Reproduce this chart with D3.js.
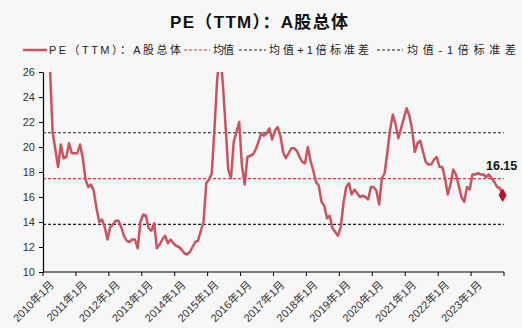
<!DOCTYPE html>
<html><head><meta charset="utf-8">
<script src="https://cdn.jsdelivr.net/npm/d3@7"></script>
<style>
html,body{margin:0;padding:0;background:#f7f7f7;}
text{font-family:"Liberation Sans",Arial,"Noto Sans CJK SC",sans-serif;}
</style></head>
<body><svg id="c" width="522" height="328"></svg>
<script>
// Monthly PE (TTM) of all A shares, 2010-01 .. 2023-12
const startYear = 2010;
const peValues = [
33,29.5,26.5,21.2,19.8,18.4,20.2,19.1,19.2,20.3,19.5,19.5,
19.5,20.2,19.1,17.4,16.8,17.0,16.5,15.1,14.0,14.2,13.6,12.6,
13.6,13.8,14.1,14.1,13.6,12.9,12.5,12.4,12.6,12.6,11.9,14.0,
14.6,14.5,13.5,13.3,13.9,11.9,12.2,12.6,12.9,12.3,12.6,12.3,
12.1,12.0,11.8,11.5,11.4,11.6,12.0,12.4,12.5,13.3,14.0,17.1,
17.4,17.9,21.5,25.5,27.5,25.2,21.8,18.2,17.5,20.4,21.2,22.0,
18.5,17.0,19.2,19.3,19.4,19.8,20.4,21.1,20.9,21.1,21.5,20.6,
21.3,21.6,20.9,19.6,19.1,19.5,19.9,19.9,19.7,19.2,18.8,18.7,
20.0,18.9,18.1,17.2,16.9,15.6,15.3,14.3,14.5,13.5,13.2,12.9,
13.6,15.5,16.8,17.1,16.2,16.6,16.3,16.0,16.1,16.0,15.8,16.8,
16.8,16.5,15.4,17.5,17.9,19.6,21.4,22.6,21.8,20.7,21.5,22.3,
23.1,22.5,21.4,19.6,20.3,20.5,19.6,18.8,18.6,18.6,19.0,19.2,
18.4,18.4,17.5,16.2,17.0,18.2,17.8,16.9,16.0,15.6,16.8,16.6,
17.8,17.8,17.9,17.8,17.8,17.6,17.8,17.5,17.2,16.8,16.7,16.15
];
const meanValue = 17.47;
const upperValue = 21.14;
const lowerValue = 13.81;
const yTicks = [10,12,14,16,18,20,22,24,26];
const months = peValues.map((v,i)=>{const y=startYear+Math.floor(i/12), m=i%12+1; return y+"年"+m+"月";});
const xLabels = months.filter((d,i)=>i%12===0);
const titleText = "PE（TTM）：A股总体";
const legendLabels = ["PE（TTM）：A股总体","均值","均值+1倍标准差","均值-1倍标准差"];
const lastLabel = "16.15";

const svg = d3.select("#c");
svg.append("rect").attr("width",522).attr("height",328).attr("fill","#f7f7f7");

const L=43, R=504, T=72, B=272;
const x = d3.scaleBand().domain(months).range([L,R]).paddingInner(0).paddingOuter(0);
const cx = d => x(d)+x.bandwidth()/2;
const y = d3.scaleLinear().domain([10,26]).range([B,T]);

const lineColor = "#c9545f";

// title
svg.append("text").attr("x",259).attr("y",28).attr("text-anchor","middle")
  .attr("font-size",17).attr("font-weight","bold").attr("fill","#111")
  .attr("textLength",178).attr("lengthAdjust","spacing").text(titleText);

// legend
const lg = svg.append("g");
const lgY = 50;
const items = [
  {x1:23,x2:47,tx:49,tw:132,stroke:lineColor,dash:null,w:2.5},
  {x1:184,x2:210,tx:213,tw:21,stroke:"#e0303c",dash:"3,2",w:1.2},
  {x1:239,x2:266,tx:269,tw:100,stroke:"#222",dash:"3,2",w:1.2},
  {x1:377,x2:403,tx:407,tw:109,stroke:"#222",dash:"3,2",w:1.2}
];
items.forEach((it,i)=>{
  lg.append("line").attr("x1",it.x1).attr("x2",it.x2).attr("y1",lgY).attr("y2",lgY)
    .attr("stroke",it.stroke).attr("stroke-width",it.w).attr("stroke-dasharray",it.dash);
  lg.append("text").attr("x",it.tx).attr("y",lgY+4).attr("font-size",11).attr("fill","#222")
    .attr("textLength",it.tw).attr("lengthAdjust","spacing").text(legendLabels[i]);
});

// reference lines
const refs = [{v:upperValue,c:"#222"},{v:meanValue,c:"#e0303c"},{v:lowerValue,c:"#222"}];
svg.selectAll(".ref").data(refs).enter().append("line")
  .attr("x1",L).attr("x2",R).attr("y1",d=>y(d.v)).attr("y2",d=>y(d.v))
  .attr("stroke",d=>d.c).attr("stroke-width",1.2).attr("stroke-dasharray","3,2");

// clip
svg.append("clipPath").attr("id","clip").append("rect").attr("x",L).attr("y",T).attr("width",R-L).attr("height",B-T);

const line = d3.line().x((d,i)=>cx(months[i])).y(d=>y(d));
svg.append("path").datum(peValues).attr("clip-path","url(#clip)")
  .attr("d",line).attr("fill","none").attr("stroke",lineColor).attr("stroke-width",2.5)
  .attr("stroke-linejoin","round");

// axes
const yAxis = d3.axisLeft(y).tickValues(yTicks).tickSize(4).tickSizeOuter(0).tickPadding(4);
const gy = svg.append("g").attr("transform",`translate(${L},0)`).call(yAxis);
gy.select(".domain").attr("stroke","#000").attr("stroke-width",1.2);
gy.selectAll(".tick line").attr("stroke","#000");
gy.selectAll("text").attr("font-size",11).attr("fill","#333")
  .attr("font-family","'Liberation Sans',Arial,sans-serif");

// x axis: ticks at band boundaries every 12 months
const gx = svg.append("g");
gx.append("line").attr("x1",L).attr("x2",R).attr("y1",B).attr("y2",B).attr("stroke","#000").attr("stroke-width",1.2);
const tickPos = d3.range(0, months.length+1, 12).map(i=> i<months.length ? x(months[i]) : R);
gx.selectAll(".xt").data(tickPos).enter().append("line")
  .attr("x1",d=>d).attr("x2",d=>d).attr("y1",B).attr("y2",B+4).attr("stroke","#000");
gx.selectAll(".xl").data(xLabels).enter().append("text")
  .attr("transform",d=>`translate(${cx(d)+5},${B+8}) rotate(-45)`)
  .attr("text-anchor","end").attr("dy","0.7em").attr("font-size",11).attr("fill","#333").text(d=>d);

// last point marker & label
const li = peValues.length-1;
const sym = d3.symbol().type(d3.symbolDiamond).size(45);
svg.append("path").attr("d",sym()).attr("transform",`translate(${cx(months[li])},${y(peValues[li])})`)
  .attr("fill","#c0102a").attr("stroke","#a0101f").attr("stroke-width",0.8);
svg.append("text").attr("x",cx(months[li])-1).attr("y",y(peValues[li])-25).attr("text-anchor","middle")
  .attr("font-size",12.5).attr("font-weight","bold").attr("fill","#111").text(lastLabel);
</script></body></html>
